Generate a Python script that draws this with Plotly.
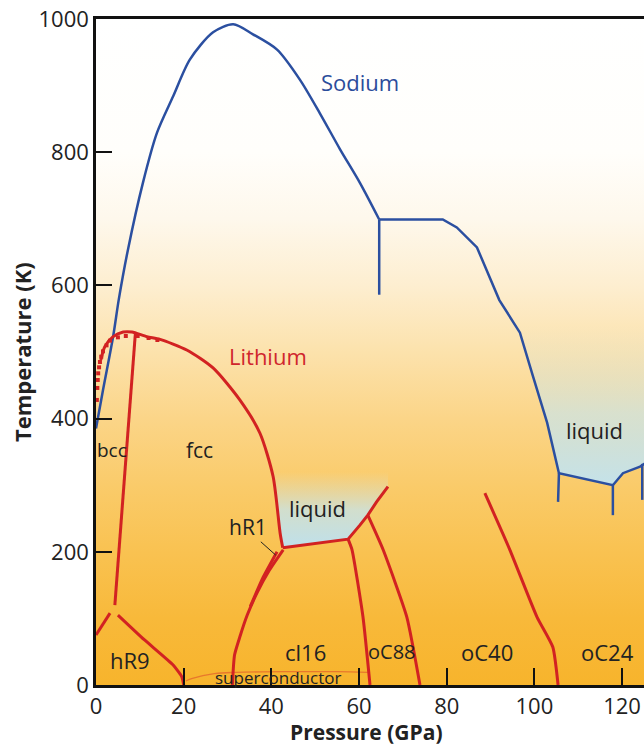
import plotly.graph_objects as go

# Axis limits
X_MAX = 125
Y_MAX = 1000

# Sodium melting line (GPa, K): dome up to the 65 GPa kink, then the high-pressure part
na_dome_p = [0, 1.6, 3.9, 5.2, 7.3, 10.7, 13.9, 17.6, 21.4, 26.7, 31.3, 35.8, 41.3, 46.5, 51.1,
             55.7, 60.2, 64.6]
na_dome_t = [385, 443, 523, 579, 654, 754, 829, 884, 939, 980, 992, 977, 954, 909, 858,
             804, 754, 699]
na_high_p = [64.6, 79.1, 82.3, 86.9, 92.0, 96.7, 99.7, 102.9, 105.6, 117.9, 120.2, 124.1, 126]
na_high_t = [699, 699, 687, 657, 578, 529, 463, 394, 318, 300, 318, 328, 336]

# Sodium solid-solid boundaries (short vertical stubs)
na_stubs = [
    ([64.6, 64.6], [699, 586]),
    ([105.6, 105.4], [318, 275]),
    ([117.9, 117.9], [300, 255]),
    ([124.6, 124.6], [332, 278]),
]

# Lithium melting line: rounded top, then the low-melting part
li_top_p = [1.1, 2.0, 3.9, 6.2, 8.2, 11.6, 14.6, 20.7, 26.7, 32.8, 37.4, 40.4, 42.0, 42.6]
li_top_t = [488, 508, 523, 530, 530, 523, 519, 503, 476, 428, 378, 313, 228, 206]
li_low_p = [42.6, 57.5, 60.2, 62.0, 64.0, 66.6]
li_low_t = [206, 219, 240, 255, 275, 298]

# Lithium experimental points near the melting maximum
li_exp_p = [0.2, 0.3, 0.4, 0.5, 0.7, 0.9, 1.2, 1.6, 2.4, 3.2, 5.0, 6.8, 9.5, 12.0, 14.0]
li_exp_t = [428, 446, 458, 468, 477, 485, 493, 501, 510, 517, 522, 524, 524, 521, 518]

# Lithium solid-solid boundaries
li_bounds = [
    ([9.0, 4.3], [530, 120]),                                       # bcc / fcc
    ([0, 3.2], [75, 108]),                                          # bcc / hR9
    ([5.0, 11.0, 17.6, 19.6, 20.0], [105, 68, 30, 12, 0]),          # hR9 / fcc
    ([42.7, 39.5, 36.7, 34.5, 32.8, 31.6, 31.1], [203, 172, 138, 105, 72, 45, 0]),  # hR1
    ([41.3, 38.0, 35.2], [200, 160, 118]),                          # hR1
    ([57.5, 58.4, 60.9, 62.5], [219, 203, 102, 0]),                 # cI16 / oC88
    ([62.0, 65.5, 70.9, 73.9], [255, 203, 102, 0]),                 # oC88 / oC40
    ([88.7, 94.4, 100.6, 104.2, 105.4], [288, 203, 102, 57, 0]),    # oC40 / oC24
]

# Superconducting transition line
sc_p = [20.5, 22, 27, 32, 45, 55, 62]
sc_t = [6, 10, 17, 19, 20, 20, 19]

# Phase labels: (text, P, T, colour, size)
labels = [
    ("Sodium", 60.2, 906, "#2b4c9b", 22),
    ("Lithium", 39.2, 494, "#d0262d", 22),
    ("bcc", 3.6, 353, "#222222", 19),
    ("fcc", 23.5, 353, "#222222", 21),
    ("liquid", 50.6, 266, "#222222", 22),
    ("hR1", 34.7, 237, "#222222", 21),
    ("liquid", 113.8, 383, "#222222", 22),
    ("hR9", 7.8, 38, "#222222", 22),
    ("cl16", 47.7, 50, "#222222", 22),
    ("oC88", 67.5, 50, "#222222", 20),
    ("oC40", 89.2, 50, "#222222", 22),
    ("oC24", 116.6, 50, "#222222", 22),
    ("superconductor", 41.5, 11, "#222222", 17),
]

NA_COLOR = "#2b4fa0"
LI_COLOR = "#d22222"
FONT = "Open Sans"

fig = go.Figure()

# background: white at the top to orange at the bottom
fig.add_trace(go.Scatter(
    x=[0, X_MAX, X_MAX, 0, 0], y=[0, 0, Y_MAX, Y_MAX, 0],
    mode="none", fill="toself", hoverinfo="skip", showlegend=False,
    fillgradient=dict(type="vertical", colorscale=[
        [0.0, "#f7b42c"], [0.1, "#f8b93a"], [0.2, "#f9c251"], [0.3, "#facb6a"],
        [0.4, "#fbd588"], [0.5, "#fce2ac"], [0.6, "#fdeed0"], [0.7, "#fef8ec"],
        [0.8, "#fffefb"], [1.0, "#ffffff"]])
))

# liquid glow for lithium
li_glow_p = li_top_p[11:] + li_low_p + [li_low_p[-1], li_top_p[11]]
li_glow_t = li_top_t[11:] + li_low_t + [320, 320]
fig.add_trace(go.Scatter(
    x=li_glow_p, y=li_glow_t, mode="none", fill="toself", hoverinfo="skip", showlegend=False,
    fillgradient=dict(type="vertical", start=206, stop=320, colorscale=[
        [0.0, "rgba(190,224,236,1)"], [0.5, "rgba(200,228,232,0.8)"], [1.0, "rgba(210,230,230,0)"]])
))

# liquid glow for sodium
na_glow_p = [na_high_p[4] - 3] + na_high_p[4:] + [X_MAX + 1]
na_glow_t = [na_high_t[4]] + na_high_t[4:] + [na_high_t[4]]
fig.add_trace(go.Scatter(
    x=na_glow_p, y=na_glow_t, mode="none", fill="toself", hoverinfo="skip", showlegend=False,
    fillgradient=dict(type="vertical", start=300, stop=540, colorscale=[
        [0.0, "rgba(196,226,234,1)"], [0.45, "rgba(205,228,228,0.75)"], [1.0, "rgba(215,230,225,0)"]])
))

# sodium
fig.add_trace(go.Scatter(x=na_dome_p, y=na_dome_t, mode="lines", showlegend=False,
                         line=dict(color=NA_COLOR, width=2.5, shape="spline", smoothing=0.8)))
fig.add_trace(go.Scatter(x=na_high_p, y=na_high_t, mode="lines", showlegend=False,
                         line=dict(color=NA_COLOR, width=2.5)))
for px_, pt_ in na_stubs:
    fig.add_trace(go.Scatter(x=px_, y=pt_, mode="lines", showlegend=False,
                             line=dict(color=NA_COLOR, width=2.5)))

# superconductor line
fig.add_trace(go.Scatter(x=sc_p, y=sc_t, mode="lines", showlegend=False,
                         line=dict(color="#e8782c", width=1.3, shape="spline")))

# lithium
fig.add_trace(go.Scatter(x=li_top_p, y=li_top_t, mode="lines", showlegend=False,
                         line=dict(color=LI_COLOR, width=3, shape="spline", smoothing=0.7)))
fig.add_trace(go.Scatter(x=li_low_p, y=li_low_t, mode="lines", showlegend=False,
                         line=dict(color=LI_COLOR, width=3)))
for px_, pt_ in li_bounds:
    fig.add_trace(go.Scatter(x=px_, y=pt_, mode="lines", showlegend=False,
                             line=dict(color=LI_COLOR, width=3, shape="spline", smoothing=0.5)))
fig.add_trace(go.Scatter(x=li_exp_p, y=li_exp_t, mode="markers", showlegend=False,
                         marker=dict(color=LI_COLOR, size=4, symbol="square")))

# hR1 pointer
fig.add_trace(go.Scatter(x=[37.6, 41.0], y=[215, 195], mode="lines", showlegend=False,
                         line=dict(color="#222222", width=1)))

for text, p, t, color, size in labels:
    fig.add_annotation(x=p, y=t, text=text, showarrow=False,
                       font=dict(family=FONT, size=size, color=color))

# axis titles placed as paper annotations
fig.add_annotation(x=0.493, y=-0.071, xref="paper", yref="paper", showarrow=False,
                   text="<b>Pressure (GPa)</b>", yanchor="middle",
                   font=dict(family=FONT, size=21, color="#222222"))
fig.add_annotation(x=-0.135, y=0.5, xref="paper", yref="paper", showarrow=False,
                   text="<b>Temperature (K)</b>", textangle=-90, xanchor="center",
                   font=dict(family=FONT, size=22, color="#222222"))

fig.update_layout(
    width=644, height=748,
    margin=dict(l=96, r=0, t=19, b=63, autoexpand=False),
    paper_bgcolor="white", plot_bgcolor="white",
    font=dict(family=FONT, color="#222222"),
    showlegend=False,
)
fig.update_xaxes(
    range=[0, X_MAX], tickvals=[0, 20, 40, 60, 80, 100, 120],
    ticks="inside", ticklen=17, tickwidth=1.5, tickcolor="#111111",
    showline=True, linecolor="#111111", linewidth=2.5, mirror=True,
    showgrid=False, zeroline=False, automargin=False,
    tickfont=dict(family=FONT, size=22, color="#222222"),
)
fig.update_yaxes(
    range=[0, Y_MAX], tickvals=[0, 200, 400, 600, 800, 1000],
    ticks="inside", ticklen=16, tickwidth=1.5, tickcolor="#111111",
    showline=True, linecolor="#111111", linewidth=2.5,
    showgrid=False, zeroline=False, automargin=False,
    tickfont=dict(family=FONT, size=22, color="#222222"),
)

# drop the default page margin so the figure sits at the window corner
fig.write_html("out.html", config={"displayModeBar": False},
               post_script="document.body.style.margin = '0';")
